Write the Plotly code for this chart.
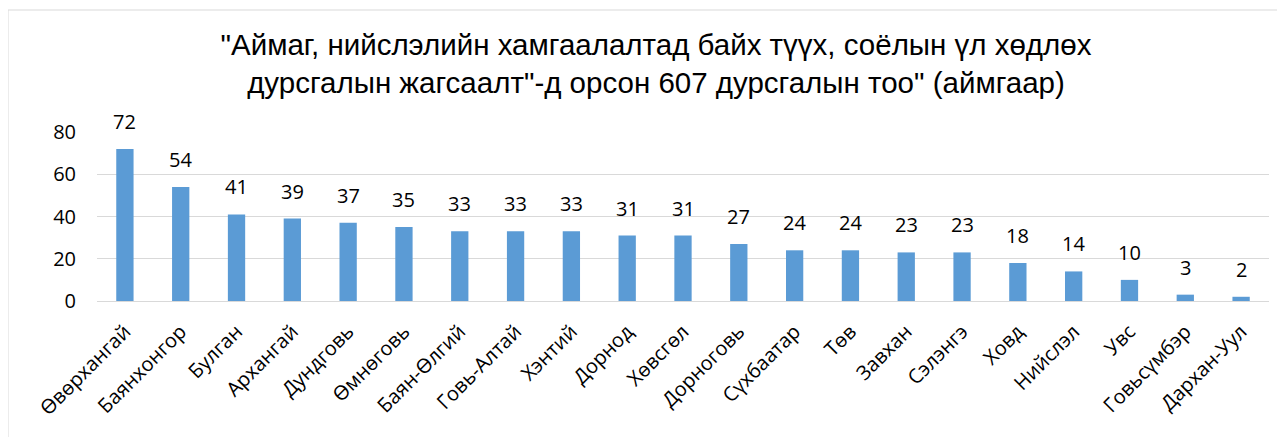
import plotly.graph_objects as go

categories = ["Өвөрхангай", "Баянхонгор", "Булган", "Архангай", "Дундговь", "Өмнөговь",
              "Баян-Өлгий", "Говь-Алтай", "Хэнтий", "Дорнод", "Хөвсгөл", "Дорноговь",
              "Сүхбаатар", "Төв", "Завхан", "Сэлэнгэ", "Ховд", "Нийслэл", "Увс",
              "Говьсүмбэр", "Дархан-Уул"]
values = [72, 54, 41, 39, 37, 35, 33, 33, 33, 31, 31, 27, 24, 24, 23, 23, 18, 14, 10, 3, 2]
y_ticks = [0, 20, 40, 60, 80]
title = ('"Аймаг, нийслэлийн хамгаалалтад байх түүх, соёлын үл хөдлөх<br>'
         'дурсгалын жагсаалт"-д орсон 607 дурсгалын тоо" (аймгаар)')

FONT = "Open Sans, sans-serif"

fig = go.Figure(go.Bar(
    x=categories, y=values, marker_color="#5B9BD5",
    marker_line_width=0,
))

for c, v in zip(categories, values):
    fig.add_annotation(x=c, y=v, text=str(v), showarrow=False,
                       xanchor="center", yanchor="bottom", yshift=12,
                       font=dict(family=FONT, size=20, color="#000000"))

# page offset of 8px (body margin) compensated
OFF = 8
W, H = 1285 - OFF, 437 - OFF
L, R, T, B = 97 - OFF, 16, 132 - OFF, 136
pw, ph = W - L - R, H - T - B
y0_px = 301 - OFF  # zero line in figure px

fig.update_layout(
    width=W, height=H,
    margin=dict(l=L, r=R, t=T, b=B),
    paper_bgcolor="white", plot_bgcolor="white",
    bargap=0.69,
    showlegend=False,
    title=dict(text=title, x=(656 - OFF) / W, xref="container", xanchor="center",
               y=1 - 47 / H, yanchor="top",
               font=dict(family="Liberation Sans, Arial, sans-serif", size=29.5, color="#000000")),
    xaxis=dict(tickangle=-45, showgrid=False, showline=False, ticks="", automargin=False,
               ticklabelstandoff=14,
               tickfont=dict(family=FONT, size=20, color="#000000")),
    yaxis=dict(range=[0, 80], tickvals=y_ticks, showgrid=True, gridcolor="#D9D9D9",
               gridwidth=1, zeroline=True, zerolinecolor="#D9D9D9", zerolinewidth=1,
               ticks="", automargin=False, ticklabelstandoff=20,
               tickfont=dict(family=FONT, size=20, color="#000000")),
    shapes=[dict(type="rect", xref="paper", yref="paper",
                 x0=(8 - 97) / pw, x1=(1278 - 97) / pw,
                 y0=(y0_px - 450) / ph, y1=(y0_px - (10 - OFF)) / ph,
                 line=dict(color="#D9D9D9", width=1), fillcolor="rgba(0,0,0,0)", layer="below")],
)

fig.write_html("out.html")
